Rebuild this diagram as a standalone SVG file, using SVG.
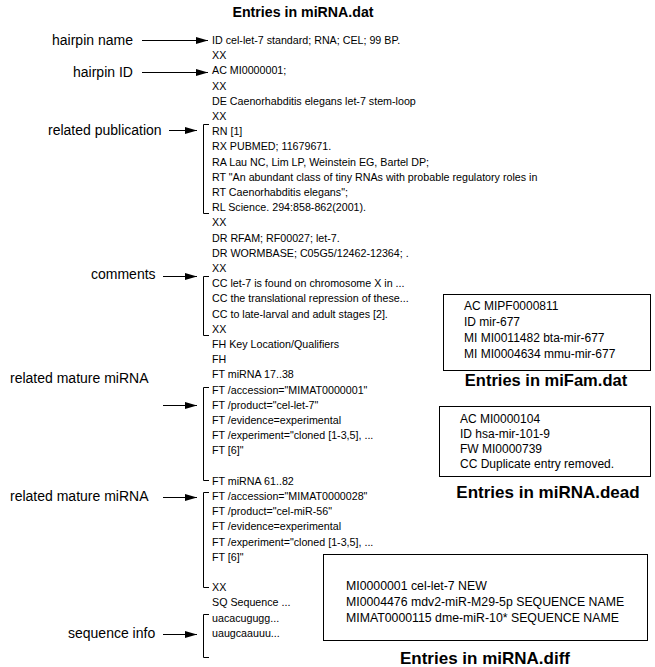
<svg xmlns="http://www.w3.org/2000/svg" width="655" height="667" viewBox="0 0 655 667">
<defs>
<style>
text{font-family:"Liberation Sans",Arial,sans-serif;fill:#000}
.t{font-size:14.2px;font-weight:bold}
.t2{font-size:17px;font-weight:bold}
.l{font-size:14px}
.e{font-size:10.7px}
.b{font-size:12px}
.c{stroke:#000;stroke-width:1;fill:none}
.box{stroke:#000;stroke-width:1;fill:#fff}
</style>
<marker id="ah" markerWidth="12" markerHeight="8" refX="12" refY="4" orient="auto" markerUnits="userSpaceOnUse">
<path d="M0,0.5 L12,4 L0,7.5 Z" fill="#000"/>
</marker>
</defs>
<rect width="655" height="667" fill="#fff"/>
<text class="t" x="303" y="17" text-anchor="middle">Entries in miRNA.dat</text>
<g id="labels">
<text class="l" x="52" y="45">hairpin name</text>
<text class="l" x="73" y="77">hairpin ID</text>
<text class="l" x="48" y="135">related publication</text>
<text class="l" x="91" y="279">comments</text>
<text class="l" x="10" y="383">related mature miRNA</text>
<text class="l" x="10" y="501">related mature miRNA</text>
<text class="l" x="68" y="638">sequence info</text>
</g>
<g id="entry" class="e">
<text x="212" y="44">ID cel-let-7 standard; RNA; CEL; 99 BP.</text>
<text x="212" y="59.2">XX</text>
<text x="212" y="74.4">AC MI0000001;</text>
<text x="212" y="89.6">XX</text>
<text x="212" y="104.8">DE Caenorhabditis elegans let-7 stem-loop</text>
<text x="212" y="120">XX</text>
<text x="212" y="135.2">RN [1]</text>
<text x="212" y="150.4">RX PUBMED; 11679671.</text>
<text x="212" y="165.6">RA Lau NC, Lim LP, Weinstein EG, Bartel DP;</text>
<text x="212" y="180.8">RT "An abundant class of tiny RNAs with probable regulatory roles in</text>
<text x="212" y="196">RT Caenorhabditis elegans";</text>
<text x="212" y="211.2">RL Science. 294:858-862(2001).</text>
<text x="212" y="226.4">XX</text>
<text x="212" y="241.6">DR RFAM; RF00027; let-7.</text>
<text x="212" y="256.8">DR WORMBASE; C05G5/12462-12364; .</text>
<text x="212" y="272">XX</text>
<text x="212" y="287.2">CC let-7 is found on chromosome X in ...</text>
<text x="212" y="302.4">CC the translational repression of these...</text>
<text x="212" y="317.6">CC to late-larval and adult stages [2].</text>
<text x="212" y="332.8">XX</text>
<text x="212" y="348">FH Key Location/Qualifiers</text>
<text x="212" y="363.2">FH</text>
<text x="212" y="378.4">FT miRNA 17..38</text>
<text x="212" y="393.6">FT /accession="MIMAT0000001"</text>
<text x="212" y="408.8">FT /product="cel-let-7"</text>
<text x="212" y="424">FT /evidence=experimental</text>
<text x="212" y="439.2">FT /experiment="cloned [1-3,5], ...</text>
<text x="212" y="454.4">FT [6]"</text>
<text x="212" y="484.8">FT miRNA 61..82</text>
<text x="212" y="500">FT /accession="MIMAT0000028"</text>
<text x="212" y="515.2">FT /product="cel-miR-56"</text>
<text x="212" y="530.4">FT /evidence=experimental</text>
<text x="212" y="545.6">FT /experiment="cloned [1-3,5], ...</text>
<text x="212" y="560.8">FT [6]"</text>
<text x="212" y="591.2">XX</text>
<text x="212" y="606.4">SQ Sequence ...</text>
<text x="212" y="621.6">uacacugugg...</text>
<text x="212" y="636.8">uaugcaauuu...</text>
</g>
<g id="connectors" class="c">
<line x1="142" y1="40.5" x2="208" y2="40.5" marker-end="url(#ah)"/>
<line x1="142" y1="72.5" x2="208" y2="72.5" marker-end="url(#ah)"/>
<line x1="169" y1="130.5" x2="197" y2="130.5" marker-end="url(#ah)"/>
<line x1="163" y1="276.5" x2="197" y2="276.5" marker-end="url(#ah)"/>
<line x1="163" y1="405.5" x2="197" y2="405.5" marker-end="url(#ah)"/>
<line x1="163" y1="497.5" x2="197" y2="497.5" marker-end="url(#ah)"/>
<line x1="163" y1="634.5" x2="197" y2="634.5" marker-end="url(#ah)"/>
<path d="M209,124.5 H203.5 V213.5 H209"/>
<path d="M209,276.5 H203.5 V335.5 H209"/>
<path d="M209,387.5 H203.5 V480.5 H209"/>
<path d="M209,492.5 H203.5 V587.5 H209"/>
<path d="M209,614.5 H203.5 V657.5 H209"/>
</g>
<g id="mifam">
<rect class="box" x="443.5" y="294.5" width="207" height="76"/>
<text class="b" x="464" y="310">AC MIPF0000811</text>
<text class="b" x="464" y="326">ID mir-677</text>
<text class="b" x="464" y="342">MI MI0011482 bta-mir-677</text>
<text class="b" x="464" y="358">MI MI0004634 mmu-mir-677</text>
<text class="t2" x="546" y="386" text-anchor="middle" style="font-size:16.5px">Entries in miFam.dat</text>
</g>
<g id="dead">
<rect class="box" x="439.5" y="406.5" width="211" height="70"/>
<text class="b" x="460" y="423">AC MI0000104</text>
<text class="b" x="460" y="438">ID hsa-mir-101-9</text>
<text class="b" x="460" y="453">FW MI0000739</text>
<text class="b" x="460" y="468">CC Duplicate entry removed.</text>
<text class="t2" x="548" y="498" text-anchor="middle">Entries in miRNA.dead</text>
</g>
<g id="diff">
<rect class="box" x="323.5" y="554.5" width="324" height="86"/>
<text class="b" x="346" y="590" style="font-size:12.3px">MI0000001 cel-let-7 NEW</text>
<text class="b" x="346" y="606" style="font-size:12.3px">MI0004476 mdv2-miR-M29-5p SEQUENCE NAME</text>
<text class="b" x="346" y="622" style="font-size:12.3px">MIMAT0000115 dme-miR-10* SEQUENCE NAME</text>
<text class="t2" x="485" y="664" text-anchor="middle">Entries in miRNA.diff</text>
</g>
</svg>
